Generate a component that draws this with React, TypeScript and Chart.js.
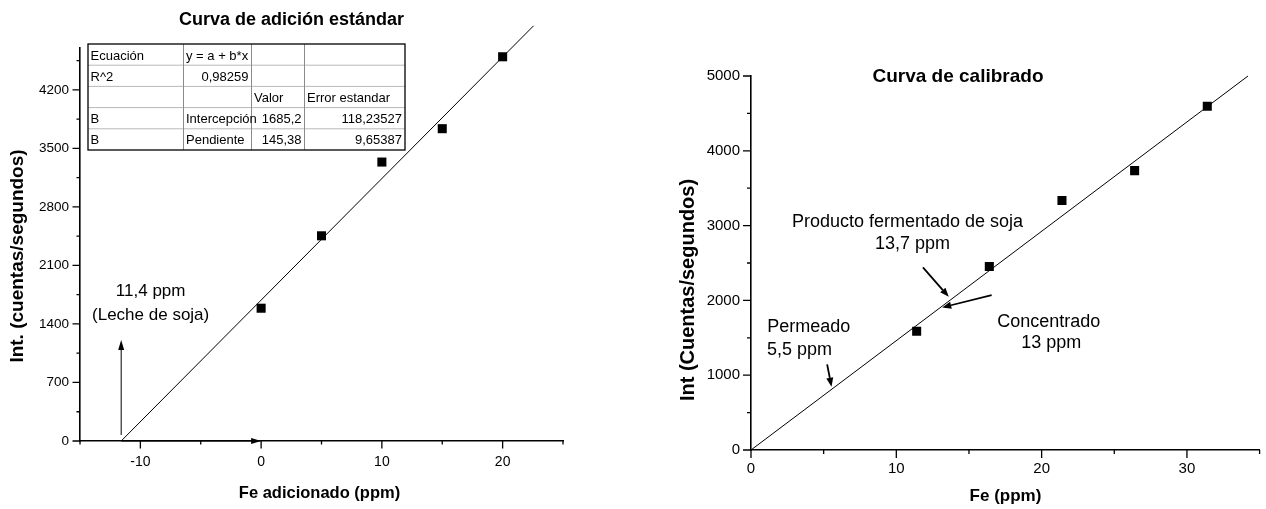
import React, { useEffect, useRef } from "react";
import { Chart, registerables } from "chart.js";

Chart.register(...registerables);

const FONT = "'Liberation Sans', Arial, Helvetica, sans-serif";

// ---------- Left chart: standard addition curve ----------
const addedFe = [0, 5, 10, 15, 20];
const addedIntensity = [1588, 2454, 3336, 3735, 4595];
const fitLineX = [-11.59, 22.56];
const fitLineY = [0, 4965];
const leftXLimits = [-15, 25];
const leftXSteps = [5, 10]; // minor, labelled
const leftYLimits = [0, 4700];
const leftYSteps = [350, 700];

const tableRows = [
  ["Ecuación", "y = a + b*x", "", ""],
  ["R^2", "0,98259", "", ""],
  ["", "", "Valor", "Error estandar"],
  ["B", "Intercepción", "1685,2", "118,23527"],
  ["B", "Pendiente", "145,38", "9,65387"],
];

// ---------- Right chart: calibration curve ----------
const calibFe = [11.4, 16.4, 21.4, 26.4, 31.4];
const calibIntensity = [1588, 2454, 3336, 3735, 4595];
const calibLineX = [0, 34.2];
const calibLineY = [0, 5000];
const rightXLimits = [0, 35];
const rightXSteps = [5, 10];
const rightYLimits = [0, 5000];
const rightYSteps = [500, 1000];

function isMajor(v: number, major: number) {
  return Math.abs(v % major) < 1e-9;
}

function axis(
  limits: number[],
  steps: number[],
  fontSize: number,
  tickLen: number,
  pad: number,
  fitSize: number,
  isX: boolean
): any {
  return {
    type: "linear",
    min: limits[0],
    max: limits[1],
    border: { display: true, color: "#000", width: 1.6 },
    grid: {
      display: true,
      drawOnChartArea: false,
      color: "rgba(0,0,0,0)",
      tickLength: tickLen,
    },
    ticks: {
      stepSize: steps[0],
      autoSkip: false,
      includeBounds: false,
      maxRotation: 0,
      minRotation: 0,
      padding: pad,
      color: "#000",
      font: { family: FONT, size: fontSize },
      callback: (v: number) => (isMajor(v, steps[1]) ? String(v) : ""),
    },
    afterFit: (s: any) => {
      if (isX) s.height = fitSize;
      else s.width = fitSize;
    },
  };
}

function drawTicks(chart: any, majorLen: number, minorLen: number) {
  const { ctx, chartArea: ca } = chart;
  const x = chart.scales.x;
  const y = chart.scales.y;
  ctx.save();
  ctx.strokeStyle = "#000";
  ctx.lineWidth = 1.3;
  ctx.beginPath();
  x.ticks.forEach((t: any) => {
    const px = x.getPixelForValue(t.value);
    const len = t.label !== "" ? majorLen : minorLen;
    ctx.moveTo(px, ca.bottom);
    ctx.lineTo(px, ca.bottom + len);
  });
  y.ticks.forEach((t: any) => {
    const py = y.getPixelForValue(t.value);
    const len = t.label !== "" ? majorLen : minorLen;
    ctx.moveTo(ca.left, py);
    ctx.lineTo(ca.left - len, py);
  });
  ctx.stroke();
  ctx.restore();
}

function drawArrow(
  ctx: CanvasRenderingContext2D,
  x1: number,
  y1: number,
  x2: number,
  y2: number,
  headLen: number,
  headHalf: number,
  lw: number
) {
  const ang = Math.atan2(y2 - y1, x2 - x1);
  const bx = x2 - headLen * Math.cos(ang);
  const by = y2 - headLen * Math.sin(ang);
  ctx.save();
  ctx.strokeStyle = "#000";
  ctx.fillStyle = "#000";
  ctx.lineWidth = lw;
  ctx.beginPath();
  ctx.moveTo(x1, y1);
  ctx.lineTo(bx, by);
  ctx.stroke();
  ctx.beginPath();
  ctx.moveTo(x2, y2);
  ctx.lineTo(bx + headHalf * Math.sin(ang), by - headHalf * Math.cos(ang));
  ctx.lineTo(bx - headHalf * Math.sin(ang), by + headHalf * Math.cos(ang));
  ctx.closePath();
  ctx.fill();
  ctx.restore();
}

function drawRotated(ctx: CanvasRenderingContext2D, text: string, cx: number, cy: number, font: string) {
  ctx.save();
  ctx.translate(cx, cy);
  ctx.rotate(-Math.PI / 2);
  ctx.font = font;
  ctx.textAlign = "center";
  ctx.textBaseline = "middle";
  ctx.fillStyle = "#000";
  ctx.fillText(text, 0, 0);
  ctx.restore();
}

// Annotation placements (data coordinates)
const leftNotes = [
  { text: "11,4 ppm", x: -9.15, y: 1795 },
  { text: "(Leche de soja)", x: -9.15, y: 1508 },
];
const leftArrows = [
  { from: [-11.59, 72], to: [-11.59, 1208] },
  { from: [-11.59, 0], to: [0, 0] },
];
const rightNotes = [
  { text: "Producto fermentado de soja", x: 10.77, y: 3050, align: "center" },
  { text: "13,7 ppm", x: 11.12, y: 2752, align: "center" },
  { text: "Permeado", x: 1.12, y: 1647, align: "left" },
  { text: "5,5 ppm", x: 1.1, y: 1336, align: "left" },
  { text: "Concentrado", x: 20.49, y: 1716, align: "center" },
  { text: "13 ppm", x: 20.66, y: 1425, align: "center" },
];
const rightArrows = [
  { from: [11.83, 2441], to: [13.61, 2048] },
  { from: [16.56, 2071], to: [13.16, 1906] },
  { from: [5.24, 1145], to: [5.54, 846] },
];

const leftDecor = {
  id: "leftDecor",
  afterDraw(chart: any) {
    const { ctx } = chart;
    const x = chart.scales.x;
    const y = chart.scales.y;
    drawTicks(chart, 7.5, 3.5);
    ctx.save();
    ctx.fillStyle = "#000";
    ctx.textAlign = "center";
    ctx.textBaseline = "middle";
    ctx.font = `bold 18px ${FONT}`;
    ctx.fillText("Curva de adición estándar", 291.5, 20);
    ctx.font = `bold 16.5px ${FONT}`;
    ctx.fillText("Fe adicionado (ppm)", 319.5, 493);
    ctx.restore();
    drawRotated(ctx, "Int. (cuentas/segundos)", 18, 256, `bold 19px ${FONT}`);

    ctx.save();
    ctx.fillStyle = "#000";
    ctx.textAlign = "center";
    ctx.textBaseline = "middle";
    ctx.font = `17px ${FONT}`;
    leftNotes.forEach((n) => ctx.fillText(n.text, x.getPixelForValue(n.x), y.getPixelForValue(n.y)));
    ctx.restore();
    leftArrows.forEach((a) =>
      drawArrow(
        ctx,
        x.getPixelForValue(a.from[0]),
        y.getPixelForValue(a.from[1]),
        x.getPixelForValue(a.to[0]),
        y.getPixelForValue(a.to[1]),
        10,
        3,
        1
      )
    );

    // fit-result table
    const colX = [88, 183.5, 251.5, 304.5, 405];
    const top = 44;
    const rowH = 21.2;
    const nRows = tableRows.length;
    ctx.save();
    ctx.fillStyle = "#fff";
    ctx.fillRect(colX[0], top, colX[4] - colX[0], rowH * nRows);
    ctx.lineWidth = 1;
    ctx.strokeStyle = "#b8b8b8";
    ctx.beginPath();
    for (let i = 1; i < nRows; i++) {
      ctx.moveTo(colX[0], top + i * rowH);
      ctx.lineTo(colX[4], top + i * rowH);
    }
    ctx.stroke();
    ctx.strokeStyle = "#8a8a8a";
    ctx.beginPath();
    for (let j = 1; j < 4; j++) {
      ctx.moveTo(colX[j], top);
      ctx.lineTo(colX[j], top + rowH * nRows);
    }
    ctx.stroke();
    ctx.strokeStyle = "#000";
    ctx.lineWidth = 1.3;
    ctx.strokeRect(colX[0], top, colX[4] - colX[0], rowH * nRows);
    ctx.font = `13px ${FONT}`;
    ctx.fillStyle = "#000";
    ctx.textBaseline = "alphabetic";
    tableRows.forEach((row, i) => {
      row.forEach((cell, j) => {
        if (!cell) return;
        const numeric = /^[0-9]/.test(cell);
        const by = top + i * rowH + 15.5;
        if (numeric) {
          ctx.textAlign = "right";
          ctx.fillText(cell, colX[j + 1] - 3, by);
        } else {
          ctx.textAlign = "left";
          ctx.fillText(cell, colX[j] + 2.5, by);
        }
      });
    });
    ctx.restore();
  },
};

const rightDecor = {
  id: "rightDecor",
  afterDraw(chart: any) {
    const { ctx } = chart;
    const x = chart.scales.x;
    const y = chart.scales.y;
    drawTicks(chart, 8, 4);
    ctx.save();
    ctx.fillStyle = "#000";
    ctx.textAlign = "center";
    ctx.textBaseline = "middle";
    ctx.font = `bold 19px ${FONT}`;
    ctx.fillText("Curva de calibrado", 318, 77);
    ctx.font = `bold 17px ${FONT}`;
    ctx.fillText("Fe (ppm)", 365.5, 496);
    ctx.restore();
    drawRotated(ctx, "Int (Cuentas/segundos)", 48, 290, `bold 20px ${FONT}`);

    ctx.save();
    ctx.fillStyle = "#000";
    ctx.textBaseline = "middle";
    ctx.font = `18px ${FONT}`;
    rightNotes.forEach((n) => {
      ctx.textAlign = n.align as CanvasTextAlign;
      ctx.fillText(n.text, x.getPixelForValue(n.x), y.getPixelForValue(n.y));
    });
    ctx.restore();
    rightArrows.forEach((a) =>
      drawArrow(
        ctx,
        x.getPixelForValue(a.from[0]),
        y.getPixelForValue(a.from[1]),
        x.getPixelForValue(a.to[0]),
        y.getPixelForValue(a.to[1]),
        9,
        3.5,
        1.8
      )
    );
  },
};

function makeLeftConfig(): any {
  return {
    type: "scatter",
    data: {
      datasets: [
        {
          data: fitLineX.map((v, i) => ({ x: v, y: fitLineY[i] })),
          showLine: true,
          borderColor: "#000",
          borderWidth: 1,
          pointRadius: 0,
          clip: false,
        },
        {
          data: addedFe.map((v, i) => ({ x: v, y: addedIntensity[i] })),
          pointStyle: "rect",
          pointRadius: 6.4,
          backgroundColor: "#000",
          borderColor: "#000",
          borderWidth: 0,
        },
      ],
    },
    options: {
      responsive: false,
      animation: false,
      devicePixelRatio: 1,
      layout: { padding: { left: 0, right: 77, top: 48, bottom: 0 } },
      plugins: { legend: { display: false }, tooltip: { enabled: false }, title: { display: false } },
      scales: {
        x: axis(leftXLimits, leftXSteps, 14, 7.5, 5.5, 68, true),
        y: axis(leftYLimits, leftYSteps, 13.5, 7.5, 3.5, 80, false),
      },
    },
    plugins: [leftDecor],
  };
}

function makeRightConfig(): any {
  return {
    type: "scatter",
    data: {
      datasets: [
        {
          data: calibLineX.map((v, i) => ({ x: v, y: calibLineY[i] })),
          showLine: true,
          borderColor: "#000",
          borderWidth: 1,
          pointRadius: 0,
          clip: false,
        },
        {
          data: calibFe.map((v, i) => ({ x: v, y: calibIntensity[i] })),
          pointStyle: "rect",
          pointRadius: 6.4,
          backgroundColor: "#000",
          borderColor: "#000",
          borderWidth: 0,
        },
      ],
    },
    options: {
      responsive: false,
      animation: false,
      devicePixelRatio: 1,
      layout: { padding: { left: 0, right: 5, top: 76, bottom: 0 } },
      plugins: { legend: { display: false }, tooltip: { enabled: false }, title: { display: false } },
      scales: {
        x: axis(rightXLimits, rightXSteps, 15, 8, 2, 59, true),
        y: axis(rightYLimits, rightYSteps, 15, 8, 3, 111, false),
      },
    },
    plugins: [rightDecor],
  };
}

function ChartCanvas(props: { make: () => any; left: number; width: number; height: number }) {
  const ref = useRef<HTMLCanvasElement | null>(null);
  useEffect(() => {
    if (!ref.current) return;
    const c = new Chart(ref.current, props.make());
    return () => c.destroy();
  }, []);
  return (
    <canvas
      ref={ref}
      width={props.width}
      height={props.height}
      style={{ position: "absolute", left: props.left, top: 0, width: props.width, height: props.height }}
    />
  );
}

export default function App() {
  return (
    <div style={{ position: "absolute", left: 0, top: 0, width: 1266, height: 509, background: "#fff", overflow: "hidden" }}>
      <ChartCanvas make={makeLeftConfig} left={0} width={640} height={509} />
      <ChartCanvas make={makeRightConfig} left={640} width={626} height={509} />
    </div>
  );
}
